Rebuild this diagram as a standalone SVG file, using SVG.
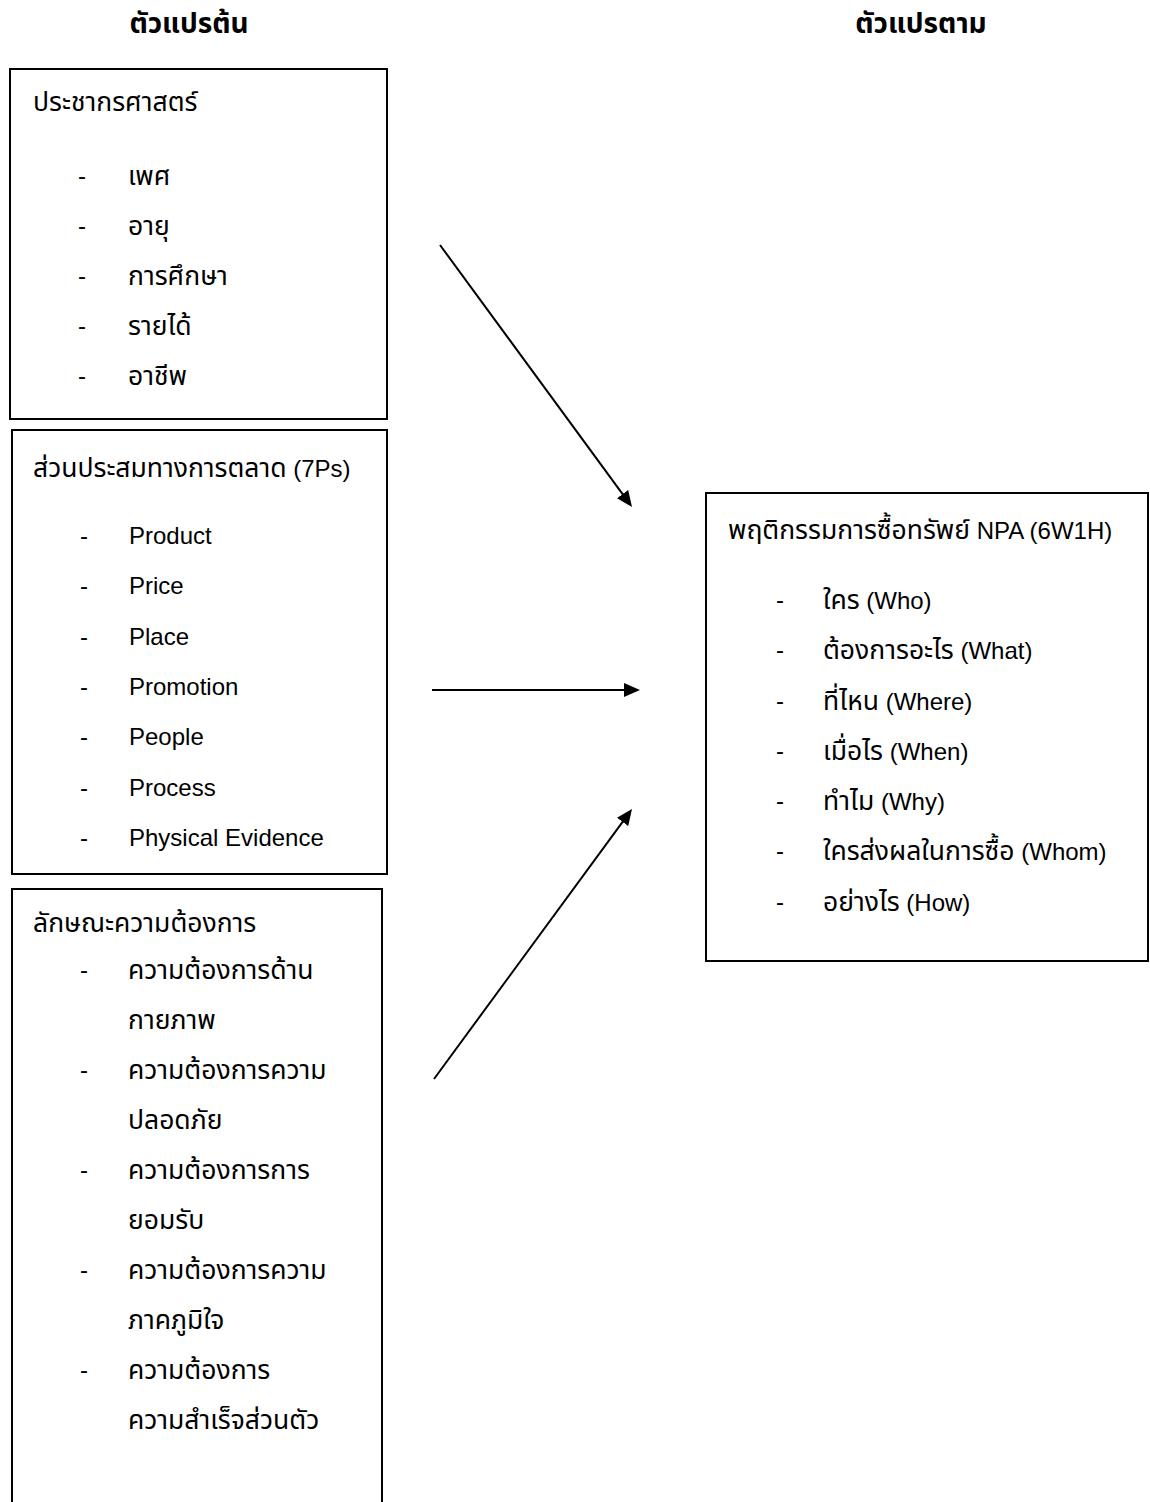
<svg xmlns="http://www.w3.org/2000/svg" width="1150" height="1502" viewBox="0 0 1150 1502">
<style>
text{font-family:"Liberation Sans","Noto Sans Thai","Noto Sans","DejaVu Sans",sans-serif;font-size:24px;fill:#000}
.t{font-size:26.5px}
.h{font-weight:bold;text-anchor:middle;font-size:28px}
.box{fill:none;stroke:#000;stroke-width:2}
.conn{stroke:#000;stroke-width:2;fill:none}
</style>
<defs>
<marker id="ah" markerUnits="userSpaceOnUse" markerWidth="16" markerHeight="14" refX="6" refY="7" orient="auto">
<path d="M0,0 L16,7 L0,14 Z" fill="#000"/>
</marker>
</defs>
<rect width="1150" height="1502" fill="#fff"/>
<text class="h" x="189" y="33">ตัวแปรต้น</text>
<text class="h" x="921" y="33">ตัวแปรตาม</text>
<g id="demographics">
<rect class="box" x="10" y="69" width="377" height="350"/>
<text class="t" x="33" y="111">ประชากรศาสตร์</text>
<text x="78" y="184">-</text><text class="t" x="128" y="185">เพศ</text>
<text x="78" y="234">-</text><text class="t" x="128" y="235">อายุ</text>
<text x="78" y="284">-</text><text class="t" x="128" y="285">การศึกษา</text>
<text x="78" y="334">-</text><text class="t" x="128" y="335">รายได้</text>
<text x="78" y="384">-</text><text class="t" x="128" y="385">อาชีพ</text>
</g>
<g id="marketing-mix">
<rect class="box" x="12" y="430" width="375" height="444"/>
<text x="33" y="477"><tspan class="t">ส่วนประสมทางการตลาด</tspan> (7Ps)</text>
<text x="80" y="544">-</text><text x="129" y="544">Product</text>
<text x="80" y="594">-</text><text x="129" y="594">Price</text>
<text x="80" y="645">-</text><text x="129" y="645">Place</text>
<text x="80" y="695">-</text><text x="129" y="695">Promotion</text>
<text x="80" y="745">-</text><text x="129" y="745">People</text>
<text x="80" y="796">-</text><text x="129" y="796">Process</text>
<text x="80" y="846">-</text><text x="129" y="846">Physical Evidence</text>
</g>
<g id="needs">
<rect class="box" x="12" y="889" width="370" height="700"/>
<text class="t" x="33" y="932">ลักษณะความต้องการ</text>
<text x="80" y="978">-</text><text class="t" x="128" y="979">ความต้องการด้าน</text>
<text class="t" x="128" y="1029">กายภาพ</text>
<text x="80" y="1078">-</text><text class="t" x="128" y="1079">ความต้องการความ</text>
<text class="t" x="128" y="1129">ปลอดภัย</text>
<text x="80" y="1178">-</text><text class="t" x="128" y="1179">ความต้องการการ</text>
<text class="t" x="128" y="1229">ยอมรับ</text>
<text x="80" y="1278">-</text><text class="t" x="128" y="1279">ความต้องการความ</text>
<text class="t" x="128" y="1329">ภาคภูมิใจ</text>
<text x="80" y="1378">-</text><text class="t" x="128" y="1379">ความต้องการ</text>
<text class="t" x="128" y="1429">ความสำเร็จส่วนตัว</text>
</g>
<g id="behavior">
<rect class="box" x="706" y="493" width="442" height="468"/>
<text x="728" y="539"><tspan class="t">พฤติกรรมการซื้อทรัพย์</tspan> NPA (6W1H)</text>
<text x="776" y="608">-</text><text x="823" y="609"><tspan class="t">ใคร</tspan> (Who)</text>
<text x="776" y="658">-</text><text x="823" y="659"><tspan class="t">ต้องการอะไร</tspan> (What)</text>
<text x="776" y="709">-</text><text x="823" y="710"><tspan class="t">ที่ไหน</tspan> (Where)</text>
<text x="776" y="759">-</text><text x="823" y="760"><tspan class="t">เมื่อไร</tspan> (When)</text>
<text x="776" y="809">-</text><text x="823" y="810"><tspan class="t">ทำไม</tspan> (Why)</text>
<text x="776" y="859">-</text><text x="823" y="860"><tspan class="t">ใครส่งผลในการซื้อ</tspan> (Whom)</text>
<text x="776" y="910">-</text><text x="823" y="911"><tspan class="t">อย่างไร</tspan> (How)</text>
</g>
<g id="connectors">
<line class="conn" x1="440" y1="245" x2="626.1" y2="498.9" marker-end="url(#ah)"/>
<line class="conn" x1="432" y1="690" x2="630" y2="690" marker-end="url(#ah)"/>
<line class="conn" x1="434" y1="1079" x2="626.1" y2="817.1" marker-end="url(#ah)"/>
</g>
</svg>
